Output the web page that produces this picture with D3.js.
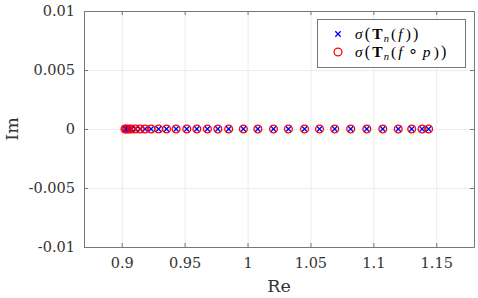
<!DOCTYPE html>
<html><head><meta charset="utf-8">
<script src="https://cdn.jsdelivr.net/npm/d3@7"></script>
<style>
html,body{margin:0;padding:0;background:#fff;}
svg{display:block;}
</style></head>
<body>
<svg id="c" width="478" height="298"></svg>
<script>
// Data
const eigRe = [0.9026,0.9038,0.9054,0.9078,0.9110,0.9146,0.9185,0.9233,0.9293,0.9356,
  0.9432,0.9517,0.9597,0.9681,0.9764,0.9850,0.9967,1.0082,1.0206,1.0325,
  1.0453,1.0572,1.0693,1.0820,1.0948,1.1075,1.1198,1.1305,1.1387,1.1439];
const eigIm = eigRe.map(() => 0);
const eigReP = eigRe.slice();
const eigImP = eigIm.slice();
const xTicks = [0.9,0.95,1,1.05,1.1,1.15];
const xTickLabels = ["0.9","0.95","1","1.05","1.1","1.15"];
const yTicks = [0.01,0.005,0,-0.005,-0.01];
const yTickLabels = ["0.01","0.005","0","-0.005","-0.01"];

const svg = d3.select("#c");
const L = 84, R = 474, T = 11, B = 247;
const x = d3.scaleLinear().domain([0.87,1.18]).range([L,R]);
const y = d3.scaleLinear().domain([-0.01,0.01]).range([B,T]);
const axisCol = "#777";
const serifTick = "'DejaVu Serif', serif";
const serifTxt = "'Liberation Serif', serif";

// grid
const g = svg.append("g");
g.append("g").attr("transform",`translate(0,${B})`)
  .call(d3.axisBottom(x).tickValues(xTicks).tickSize(-(B-T)).tickFormat(""))
  .call(s=>{s.select(".domain").remove(); s.selectAll("line").attr("stroke","#ebebeb");});
g.append("g").attr("transform",`translate(${L},0)`)
  .call(d3.axisLeft(y).tickValues(yTicks).tickSize(-(R-L)).tickFormat(""))
  .call(s=>{s.select(".domain").remove(); s.selectAll("line").attr("stroke","#ebebeb");});

// axes
function styleAx(s){
  s.select(".domain").attr("stroke",axisCol);
  s.selectAll(".tick line").attr("stroke",axisCol);
  s.selectAll(".tick text").attr("fill","#333").style("font-family",serifTick).style("font-size","14.5px");
}
svg.append("g").attr("transform",`translate(0,${B})`)
  .call(d3.axisBottom(x).tickValues(xTicks).tickSizeInner(-4).tickSizeOuter(0).tickPadding(11)
    .tickFormat((d,i)=>xTickLabels[i])).call(styleAx);
svg.append("g").attr("transform",`translate(0,${T})`)
  .call(d3.axisTop(x).tickValues(xTicks).tickSizeInner(-4).tickSizeOuter(0).tickFormat("")).call(styleAx);
svg.append("g").attr("transform",`translate(${L},0)`)
  .call(d3.axisLeft(y).tickValues(yTicks).tickSizeInner(-4).tickSizeOuter(0).tickPadding(9)
    .tickFormat((d,i)=>yTickLabels[i])).call(styleAx);
svg.append("g").attr("transform",`translate(${R},0)`)
  .call(d3.axisRight(y).tickValues(yTicks).tickSizeInner(-4).tickSizeOuter(0).tickFormat("")).call(styleAx);

// axis labels
svg.append("text").attr("x",(L+R)/2).attr("y",292).attr("text-anchor","middle")
  .style("font-family",serifTick).style("font-size","17.5px").attr("fill","#333").text("Re");
svg.append("text").attr("transform",`translate(18,${(T+B)/2}) rotate(-90)`).attr("text-anchor","middle")
  .style("font-family",serifTick).style("font-size","17.5px").attr("fill","#333").text("Im");

// markers
const cs = 2.7;
svg.append("g").selectAll("path").data(eigRe).join("path")
  .attr("d",(d,i)=>{const cx=x(d), cy=y(eigIm[i]);
    return `M${cx-cs},${cy-cs}L${cx+cs},${cy+cs}M${cx-cs},${cy+cs}L${cx+cs},${cy-cs}`;})
  .attr("stroke","#0000ff").attr("stroke-width",1.3).attr("fill","none");
svg.append("g").selectAll("circle").data(eigReP).join("circle")
  .attr("cx",d=>x(d)).attr("cy",(d,i)=>y(eigImP[i])).attr("r",3.9)
  .attr("stroke","#ff0000").attr("stroke-width",1.3).attr("fill","none");

// legend
const lg = svg.append("g");
lg.append("rect").attr("x",317.5).attr("y",19.5).attr("width",148).attr("height",48)
  .attr("fill","#fff").attr("stroke",axisCol);
const mx = 338, r1 = 34, r2 = 52;
lg.append("path").attr("d",`M${mx-cs},${r1-cs}L${mx+cs},${r1+cs}M${mx-cs},${r1+cs}L${mx+cs},${r1-cs}`)
  .attr("stroke","#0000ff").attr("stroke-width",1.3);
lg.append("circle").attr("cx",mx).attr("cy",r2).attr("r",3.9).attr("stroke","#ff0000").attr("stroke-width",1.3).attr("fill","none");

function legendText(yy, inner){
  const t = lg.append("text").attr("x",355).attr("y",yy+5)
    .style("font-family",serifTxt).style("font-size","15.5px").style("letter-spacing","1.1px").attr("fill","#000");
  t.append("tspan").style("font-style","italic").text("σ");
  t.append("tspan").style("font-size","16px").attr("dx","1").text("(");
  t.append("tspan").style("font-weight","bold").attr("dx","1").text("T");
  t.append("tspan").style("font-style","italic").style("font-size","10.5px").attr("dy","3").text("n");
  t.append("tspan").attr("dy","-3").attr("dx","1").text("(");
  inner.forEach(p=>{ const ts=t.append("tspan").text(p.s); if(p.it) ts.style("font-style","italic"); if(p.dx) ts.attr("dx",p.dx); });
  t.append("tspan").attr("dx","2").text(")");
  t.append("tspan").style("font-size","16px").attr("dx","1").text(")");
}
legendText(r1,[{s:"f",it:true,dx:1}]);
legendText(r2,[{s:"f",it:true,dx:1},{s:"∘",it:false,dx:4},{s:"p",it:true,dx:4}]);
</script>
</body></html>
